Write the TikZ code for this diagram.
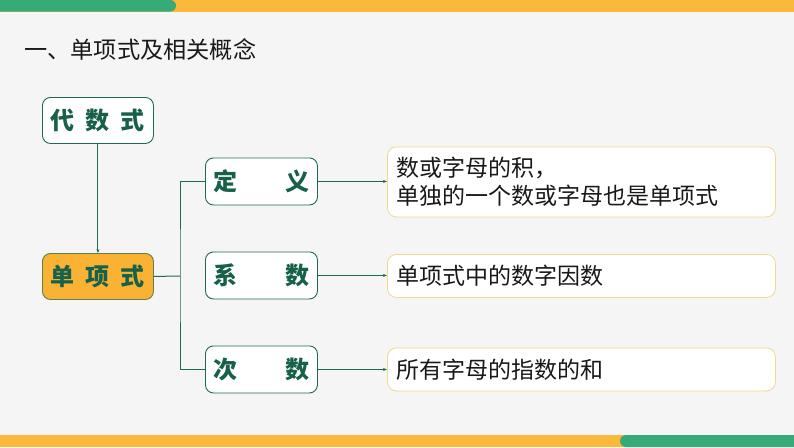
\documentclass[tikz,border=0pt]{standalone}
\usepackage{fontspec}
\setmainfont{Noto Sans CJK SC}
\usetikzlibrary{arrows.meta}
\definecolor{bg}{HTML}{F5F5F5}
\definecolor{barG}{HTML}{37AB77}
\definecolor{barY}{HTML}{FBB93C}
\definecolor{dkG}{HTML}{1E6A50}
\definecolor{txG}{HTML}{17604A}
\definecolor{boxY}{HTML}{F9B233}
\definecolor{lineY}{HTML}{F0D88C}
\tikzset{
  gbox/.style={draw=dkG, line width=0.9pt, fill=white, rounded corners=8pt,
    minimum width=111pt, minimum height=46pt, inner sep=0pt,
    font=\fontsize{24pt}{26pt}\selectfont\bfseries, text=txG, anchor=north west},
  sbox/.style={draw=dkG, line width=0.9pt, fill=white, rounded corners=8pt,
    minimum width=112pt, minimum height=47pt, inner sep=0pt, text width=96pt,
    font=\fontsize{24pt}{26pt}\selectfont\bfseries, text=txG, anchor=north west},
  ybox/.style={draw=lineY, line width=0.8pt, fill=white, rounded corners=9pt,
    minimum width=388pt, inner sep=0pt, text width=370pt, align=left,
    font=\fontsize{23pt}{30pt}\selectfont, text=black!90, anchor=north west},
  conn/.style={draw=dkG, line width=1pt},
  arr/.style={conn, -{Stealth[length=4pt,width=3pt]}},
}
\begin{document}
\begin{tikzpicture}[x=1pt,y=-1pt]
\fill[bg] (0,0) rectangle (794,447);
\useasboundingbox (0,0) rectangle (794,447);
% bars
\fill[barY] (0,0) rectangle (794,11.5);
\fill[barG, rounded corners=5.7pt] (-12,0) rectangle (176,11.5);
\fill[barY] (0,435) rectangle (794,447);
\fill[barG, rounded corners=6pt] (620,435) rectangle (806,447);
% title
\node[anchor=west, inner sep=0pt, font=\fontsize{23.2pt}{25pt}\selectfont, text=black!90] (title) at (24,50) {一、单项式及相关概念};
% left boxes
\node[gbox] (dai) at (42,97) {代\hspace{11pt}数\hspace{11pt}式};
\node[gbox, fill=boxY, draw=dkG!70!boxY] (dan) at (42,253) {单\hspace{11pt}项\hspace{11pt}式};
% middle boxes
\node[sbox] (dy) at (205,157.5) {定\hfill 义};
\node[sbox] (xs) at (205,251.5) {系\hfill 数};
\node[sbox] (cs) at (205,345.5) {次\hfill 数};
% right boxes
\node[ybox, minimum height=70pt] (r1) at (387,146.5) {数或字母的积，\\[-2pt]单独的一个数或字母也是单项式};
\node[ybox, minimum height=43pt] (r2) at (387,254) {单项式中的数字因数};
\node[ybox, minimum height=43pt] (r3) at (387,347.5) {所有字母的指数的和};
% connectors
\coordinate (j) at (180,276);
\draw[arr] (dai.south) -- (dan.north);
\draw[conn] (dan.east) -- (j);
\draw[conn] (dy.west) -| (j) |- (cs.west);
\draw[arr] (dy.east) -- (r1.west |- dy.east);
\draw[arr] (xs.east) -- (r2.west |- xs.east);
\draw[arr] (cs.east) -- (r3.west |- cs.east);
\end{tikzpicture}
\end{document}
